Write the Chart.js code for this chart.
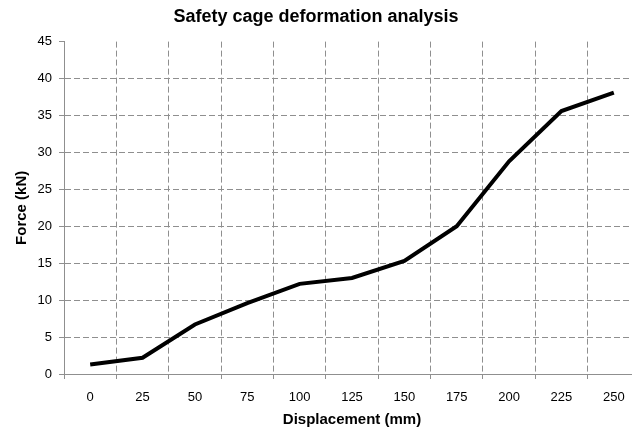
<!DOCTYPE html>
<html lang="en">

<head>
    <meta charset="UTF-8">
    <title>Safety cage deformation analysis</title>
    <script src="https://cdn.jsdelivr.net/npm/chart.js"></script>
    <style>
        html, body { margin: 0; padding: 0; background: #fff; }
        #wrap { width: 632px; height: 435px; }
    </style>
</head>

<body>
    <div id="wrap">
        <canvas id="myChart"></canvas>
    </div>

    <script>
        // displacement steps (mm) and measured force (kN)
        var displacement = ['0', '25', '50', '75', '100', '125', '150', '175', '200', '225', '250'];
        var force = [1.3, 2.2, 6.7, 9.6, 12.2, 13.0, 15.3, 20.0, 28.8, 35.6, 38.1];
        var forceTicks = { min: 0, max: 45, step: 5 };

        var gridColor = '#8f8f8f';
        var overhang = 8; // plot area runs past the right edge of the canvas
        Chart.defaults.font.family = '"Liberation Sans", Arial, sans-serif';
        Chart.defaults.color = '#000';

        var ctx01 = document.getElementById('myChart');
        var chart01 = new Chart(ctx01, {
            type: 'line',
            data: {
                labels: displacement,
                datasets: [{
                    label: 'Force',
                    data: force,
                    borderColor: '#000',
                    borderWidth: 4,
                    pointRadius: 0,
                    tension: 0,
                    fill: false
                }]
            },
            options: {
                responsive: true,
                maintainAspectRatio: false,
                animation: false,
                layout: {
                    padding: { top: 0, right: 0, bottom: 6, left: 0 }
                },
                plugins: {
                    legend: { display: false },
                    tooltip: { enabled: false },
                    title: {
                        display: true,
                        text: 'Safety cage deformation analysis',
                        font: { size: 18, weight: 'bold' },
                        color: '#000',
                        padding: { top: 6, bottom: 14 }
                    }
                },
                scales: {
                    x: {
                        offset: true,
                        afterFit: function (scale) {
                            scale.height = 55;
                        },
                        grid: {
                            offset: true,
                            color: gridColor,
                            lineWidth: 1,
                            tickLength: 5,
                            tickColor: gridColor
                        },
                        border: { color: gridColor, dash: [6, 3] },
                        ticks: {
                            font: { size: 13 },
                            padding: 11,
                            maxRotation: 0
                        },
                        title: {
                            display: true,
                            text: 'Displacement (mm)',
                            font: { size: 15, weight: 'bold' },
                            padding: { top: 5, bottom: 0 }
                        }
                    },
                    y: {
                        min: forceTicks.min,
                        max: forceTicks.max,
                        afterFit: function (scale) {
                            scale.width = 64;
                        },
                        grid: {
                            color: function (c) {
                                return c.tick && c.tick.value === forceTicks.max ? 'rgba(0,0,0,0)' : gridColor;
                            },
                            lineWidth: 1,
                            tickLength: 5,
                            tickColor: gridColor
                        },
                        border: { color: gridColor, dash: [6, 3] },
                        ticks: {
                            stepSize: forceTicks.step,
                            font: { size: 13 },
                            padding: 7
                        },
                        title: {
                            display: true,
                            text: 'Force (kN)',
                            font: { size: 15, weight: 'bold' },
                            padding: { top: 13, bottom: 6 }
                        }
                    }
                }
            },
            plugins: [{
                id: 'widenPlot',
                afterLayout: function (chart) {
                    var x = chart.scales.x;
                    x.right += overhang;
                    x.width += overhang;
                    chart.chartArea.right += overhang;
                    chart.chartArea.width += overhang;
                    x.configure();
                }
            }]
        });
    </script>
</body>

</html>
